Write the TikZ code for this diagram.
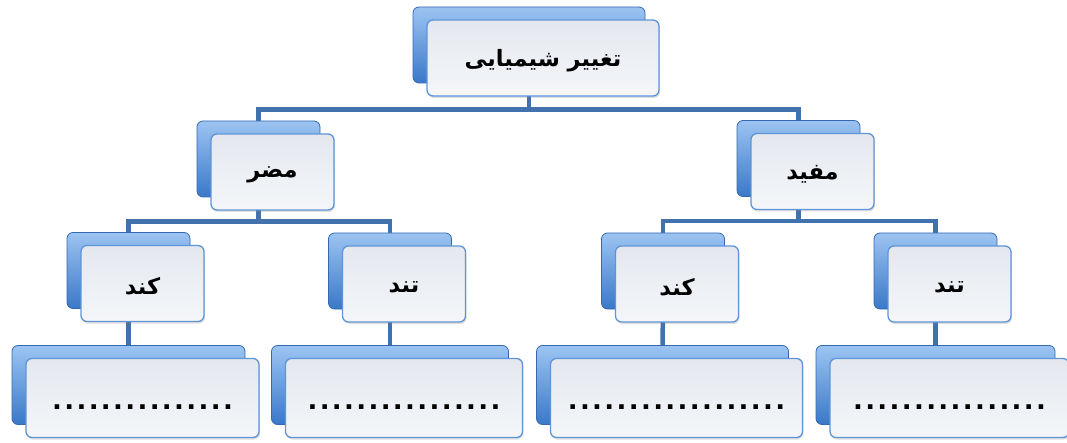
\documentclass[tikz,border=0pt]{standalone}
\usepackage{fontspec}
\setmainfont{Liberation Sans}
\newfontfamily\fa[Script=Arabic]{DejaVu Sans}
\TeXXeTstate=1
\usetikzlibrary{shadows}
\pgfdeclarelayer{bg}
\pgfsetlayers{bg,main}
\definecolor{linkc}{HTML}{4272AD}
\definecolor{backtop}{HTML}{9CC4F2}
\definecolor{backmid}{HTML}{4F8FDC}
\definecolor{backbot}{HTML}{3A78C8}
\definecolor{backedge}{HTML}{3569B0}
\definecolor{fronttop}{HTML}{E4E8EE}
\definecolor{frontbot}{HTML}{F4F6F9}
\definecolor{frontedge}{HTML}{5E95D8}
\tikzset{
  backbox/.style={rectangle, rounded corners=6pt, draw=backedge, line width=0.8pt,
    top color=backtop, middle color=backmid, bottom color=backbot, inner sep=0pt},
  frontbox/.style={rectangle, rounded corners=6pt, draw=frontedge, line width=1.3pt,
    top color=fronttop, bottom color=frontbot, inner sep=0pt,
    drop shadow={opacity=0.25, shadow xshift=1pt, shadow yshift=-2pt}},
  link/.style={draw=linkc, line width=4.5pt},
  fatext/.style={font=\fa\bfseries\fontsize{22.5}{26}\selectfont, yshift=-3pt},
  dottext/.style={font=\bfseries\fontsize{32}{36}\selectfont, text height=22pt, text depth=0pt},
}
\newcommand\tnode[5]{%
  \node[backbox, minimum width=#4pt, minimum height=#5pt] (#1b) at (#2,#3) {};
  \node[frontbox, minimum width=#4pt, minimum height=#5pt] (#1) at ([xshift=14pt,yshift=-13pt]#1b.center) {};
}
\newcommand\dotrow[1]{\foreach \i in {1,...,#1}{\makebox[12.2pt]{.}}}
\begin{document}
\begin{tikzpicture}[x=1pt,y=-1pt]
\useasboundingbox (0,0) rectangle (1067,443);
% level 0
\tnode{root}{529}{45}{232}{76}
\node[fatext] (roott) at (root.center) {\beginR تغییر شیمیایی\endR};
% level 1
\tnode{mz}{258.5}{159}{123}{76}
\node[fatext] (mzt) at (mz.center) {\beginR مضر\endR};
\tnode{mf}{798.5}{158.5}{123}{76}
\node[fatext] (mft) at (mf.center) {\beginR مفید\endR};
% level 2
\tnode{ka}{128.5}{270.5}{123}{76}
\node[fatext] (kat) at (ka.center) {\beginR کند\endR};
\tnode{ta}{390}{271}{123}{76}
\node[fatext] (tat) at (ta.center) {\beginR تند\endR};
\tnode{kb}{663}{271}{123}{76}
\node[fatext] (kbt) at (kb.center) {\beginR کند\endR};
\tnode{tb}{935.5}{271}{123}{76}
\node[fatext] (tbt) at (tb.center) {\beginR تند\endR};
% level 3
\tnode{da}{128.5}{385}{233}{79}
\node[dottext] (dat) at (da.center) {\dotrow{15}};
\tnode{db}{390}{385}{237}{79}
\node[dottext] (dbt) at (db.center) {\dotrow{16}};
\tnode{dc}{662.5}{385}{252}{79}
\node[dottext] (dct) at (dc.center) {\dotrow{18}};
\tnode{dd}{935.5}{385}{239}{79}
\node[dottext] (ddt) at (dd.center) {\dotrow{16}};
\begin{pgfonlayer}{bg}
\draw[link] (rootb.south) -- ++(0,26) -| (mzb.north);
\draw[link] (rootb.south) -- ++(0,26) -| (mfb.north);
\draw[link] (mzb.south) -- ++(0,24) -| (kab.north);
\draw[link] (mzb.south) -- ++(0,24) -| (tab.north);
\draw[link] (mfb.south) -- ++(0,24) -| (kbb.north);
\draw[link] (mfb.south) -- ++(0,24) -| (tbb.north);
\draw[link] (kab.south) -- (dab.north);
\draw[link] (tab.south) -- (dbb.north);
\draw[link] (kbb.south) -- (dcb.north);
\draw[link] (tbb.south) -- (ddb.north);
\end{pgfonlayer}
\end{tikzpicture}
\end{document}
